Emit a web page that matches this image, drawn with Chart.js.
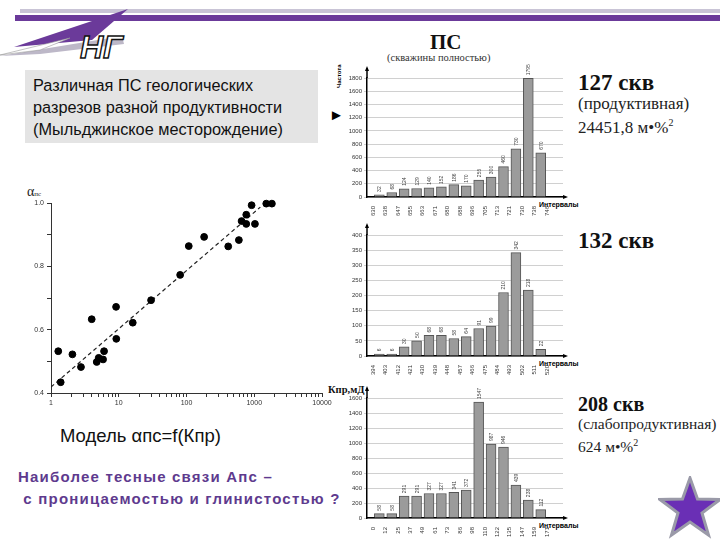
<!DOCTYPE html>
<html>
<head>
<meta charset="utf-8">
<script src="https://cdn.jsdelivr.net/npm/chart.js@4.4.1/dist/chart.umd.min.js"></script>
<style>
  body { margin:0; width:720px; height:540px; position:relative; background:#fff; overflow:hidden; font-family:"Liberation Sans", Arial, sans-serif; }
  .abs { position:absolute; }
  canvas { position:absolute; }
  .serif { font-family:"Liberation Serif", "Times New Roman", serif; }
</style>
</head>
<body>

<!-- top bands -->
<div class="abs" style="left:20px;top:9px;width:700px;height:4px;background:#c9c4d6"></div>
<div class="abs" style="left:15px;top:15px;width:705px;height:6px;background:#6b3a9a"></div>

<!-- logo -->
<svg class="abs" style="left:0;top:0" width="140" height="64">
  <polygon points="128,9 14,47 92,40" fill="#6b3a9a"/>
  <polygon points="0,56 122,36 124,44 40,54" fill="#bdb8c8"/>
  <polygon points="0,55 70,38 40,50" fill="#ffffff" stroke="#999" stroke-width="0.6"/>
  <text x="80" y="58" font-family="Liberation Sans" font-style="italic" font-weight="bold" font-size="32" fill="#fff" stroke="#111" stroke-width="1.4">НГ</text>
</svg>

<!-- description box -->
<div class="abs" style="left:25px;top:70px;width:293px;height:73px;background:#e4e4e4"></div>
<div class="abs" style="left:33px;top:74px;font-size:16.3px;line-height:22px;color:#111">
  Различная ПС геологических<br>разрезов разной продуктивности<br>(Мыльджинское месторождение)
</div>
<div class="abs" style="left:329px;top:106px;font-size:15px">&#9658;</div>

<!-- scatter labels -->
<div class="abs serif" style="left:27px;top:184px;font-size:14px;color:#222">α<span style="font-size:7px">пс</span></div>
<div class="abs serif" style="left:328px;top:384px;font-size:10.5px;font-weight:bold;color:#111">Кпр,мД</div>
<div class="abs" style="left:60px;top:425px;font-size:18.5px;color:#111">Модель αпс=f(Кпр)</div>
<div class="abs" style="left:18px;top:466px;font-size:15px;font-weight:bold;color:#5e3a8e;line-height:22px;letter-spacing:1.2px">Наиболее тесные связи Апс –<br>&nbsp;с проницаемостью и глинистостью ?</div>

<!-- histogram titles -->
<div class="abs serif" style="left:430px;top:30px;font-size:21px;font-weight:bold;color:#111">ПС</div>
<div class="abs serif" style="left:387px;top:52px;font-size:10.5px;color:#333">(скважины полностью)</div>
<div class="abs" style="left:336px;top:88px;font-size:6px;font-weight:bold;transform:rotate(-90deg);transform-origin:left top">Частота</div>

<div class="abs serif" style="left:578px;top:70px;font-size:23px;font-weight:bold;color:#111">127 скв</div>
<div class="abs serif" style="left:578px;top:94px;font-size:17px;color:#222;line-height:19px">(продуктивная)<br>24451,8 м•%<sup style="font-size:10px">2</sup></div>

<div class="abs serif" style="left:578px;top:228px;font-size:23px;font-weight:bold;color:#111">132 скв</div>

<div class="abs serif" style="left:578px;top:393px;font-size:20px;font-weight:bold;color:#111">208 скв</div>
<div class="abs serif" style="left:578px;top:414px;font-size:15.5px;color:#222;line-height:19px">(слабопродуктивная)<br>624 м•%<sup style="font-size:10px">2</sup></div>

<div class="abs" style="left:539px;top:201px;font-size:7px;font-weight:bold">Интервалы</div>
<div class="abs" style="left:539px;top:360px;font-size:7px;font-weight:bold">Интервалы</div>
<div class="abs" style="left:539px;top:522px;font-size:7px;font-weight:bold">Интервалы</div>

<canvas id="scatter" style="left:0;top:180px" width="345" height="235"></canvas>
<canvas id="hist1" style="left:340px;top:60px" width="230" height="157"></canvas>
<canvas id="hist2" style="left:340px;top:215px" width="230" height="161"></canvas>
<canvas id="hist3" style="left:340px;top:385px" width="230" height="153"></canvas>

<!-- star -->
<svg class="abs" style="left:658px;top:476px" width="64" height="64">
  <polygon points="32,2 39.5,23 62,23.5 44,37 50.5,59 32,46 13.5,59 20,37 2,23.5 24.5,23" fill="#6a2fb5" stroke="#9a9aa8" stroke-width="3"/>
</svg>

<script>
// scatter: permeability Kpr (mD) vs alpha_ps
const kprValues = [1.28, 1.39, 2.07, 2.77, 3.99, 4.73, 5.06, 5.87, 6.07, 9.13, 9.2, 16.1, 30, 80.6, 108, 182, 413, 593, 650, 762, 762, 914, 1024, 1504, 1822];
const alphaValues = [0.532, 0.434, 0.522, 0.482, 0.633, 0.498, 0.511, 0.506, 0.532, 0.672, 0.571, 0.622, 0.693, 0.773, 0.864, 0.893, 0.863, 0.883, 0.943, 0.934, 0.963, 0.993, 0.934, 0.998, 0.998];
const trendKpr = [1, 1230];
const trendAlpha = [0.419, 0.987];
const scatterXLabels = [1, 10, 100, 1000, 10000];
const scatterYLabels = [0.4, 0.6, 0.8, 1.0];

// histograms: bin edges and counts
const edges1 = ['630', '638', '647', '655', '663', '671', '680', '688', '696', '705', '713', '721', '730', '738', '746'];
const counts1 = [32, 68, 124, 129, 140, 152, 186, 170, 255, 300, 460, 730, 1795, 670];
const edges2 = ['394', '403', '412', '421', '430', '439', '448', '457', '466', '475', '484', '493', '502', '511', '520'];
const counts2 = [6, 6, 30, 50, 68, 68, 58, 64, 91, 99, 210, 342, 218, 22];
const edges3 = ['0', '12', '25', '37', '49', '61', '73', '86', '98', '110', '122', '135', '147', '159', '171'];
const counts3 = [58, 58, 291, 291, 327, 327, 341, 372, 1547, 987, 946, 439, 238, 112];

Chart.defaults.font.family = '"Liberation Sans", Arial, sans-serif';
Chart.defaults.color = '#333';

new Chart(document.getElementById('scatter'), {
  type: 'scatter',
  data: {
    datasets: [
      {
        data: kprValues.map((x, i) => ({ x, y: alphaValues[i] })),
        backgroundColor: '#000',
        borderColor: '#000',
        pointRadius: 3.4,
        clip: false
      },
      {
        data: trendKpr.map((x, i) => ({ x, y: trendAlpha[i] })),
        showLine: true,
        borderColor: '#222',
        borderWidth: 1.2,
        borderDash: [4, 3],
        pointRadius: 0
      }
    ]
  },
  options: {
    responsive: false,
    animation: false,
    layout: { padding: { top: 23, right: 23, left: 0, bottom: 0 } },
    plugins: { legend: { display: false }, tooltip: { enabled: false } },
    scales: {
      x: {
        type: 'logarithmic', min: 1, max: 10000,
        grid: { drawOnChartArea: false, color: '#333', tickLength: 4 },
        border: { color: '#333' },
        afterBuildTicks: s => { // all 1..9 per decade, for the minor marks
          const t = [];
          for (let d = 1; d <= 1000; d *= 10) for (let m = 1; m < 10; m++) t.push({ value: d * m });
          t.push({ value: 10000 });
          s.ticks = t;
        },
        ticks: {
          autoSkip: false, maxRotation: 0, font: { size: 7 }, padding: 2,
          callback: v => scatterXLabels.includes(v) ? String(v) : ''
        },
        afterFit: s => { s.height = 22; }
      },
      y: {
        min: 0.4, max: 1.0,
        grid: { drawOnChartArea: false, color: '#333', tickLength: 4 },
        border: { color: '#333' },
        ticks: {
          stepSize: 0.1, font: { size: 7 }, padding: 3,
          callback: v => scatterYLabels.some(l => Math.abs(l - v) < 1e-6) ? v.toFixed(1) : ''
        },
        afterFit: s => { s.width = 51; }
      }
    }
  }
});

// rotated numbers above each bar
const barValueLabels = {
  id: 'barValueLabels',
  afterDatasetsDraw(chart) {
    const ctx = chart.ctx;
    const meta = chart.getDatasetMeta(0);
    ctx.save();
    ctx.font = '5px "Liberation Sans"';
    ctx.fillStyle = '#444';
    meta.data.forEach((bar, i) => {
      ctx.save();
      ctx.translate(bar.x + 2, bar.y - 3);
      ctx.rotate(-Math.PI / 2);
      ctx.fillText(String(chart.data.datasets[0].data[i].y), 0, 0);
      ctx.restore();
    });
    ctx.restore();
  }
};

// little arrow heads at the ends of the axes
const axisArrows = {
  id: 'axisArrows',
  afterDraw(chart) {
    const { ctx, chartArea: a } = chart;
    ctx.save();
    ctx.fillStyle = '#000';
    ctx.strokeStyle = '#000';
    ctx.lineWidth = 1.5;
    ctx.beginPath(); ctx.moveTo(a.left, a.top); ctx.lineTo(a.left, a.top - 10); ctx.stroke();
    ctx.beginPath(); ctx.moveTo(a.left - 2, a.top - 7); ctx.lineTo(a.left, a.top - 12); ctx.lineTo(a.left + 2, a.top - 7); ctx.fill();
    ctx.beginPath(); ctx.moveTo(a.right, a.bottom - 2); ctx.lineTo(a.right + 5, a.bottom); ctx.lineTo(a.right, a.bottom + 2); ctx.fill();
    ctx.restore();
  }
};

function histogram(id, counts, edges, yMax, yStep, padTop) {
  new Chart(document.getElementById(id), {
    type: 'bar',
    data: {
      datasets: [{
        data: counts.map((y, i) => ({ x: i + 0.5, y })),
        backgroundColor: '#9b9b9b',
        borderColor: '#555',
        borderWidth: 1,
        barPercentage: 1,
        categoryPercentage: 1
      }]
    },
    options: {
      responsive: false,
      animation: false,
      layout: { padding: { top: padTop, right: 7, left: 0, bottom: 0 } },
      plugins: { legend: { display: false }, tooltip: { enabled: false } },
      scales: {
        x: {
          type: 'linear', min: 0, max: 14.8,
          grid: { display: false },
          border: { color: '#000', width: 1.5 },
          ticks: {
            stepSize: 1, autoSkip: false, maxRotation: 90, minRotation: 90,
            font: { size: 6 }, padding: 1,
            callback: v => edges[v] !== undefined ? edges[v] : ''
          },
          afterFit: s => { s.height = 20; }
        },
        y: {
          min: 0, max: yMax,
          grid: { color: '#d0d0d0', tickLength: 3 },
          border: { color: '#000', width: 1.5 },
          ticks: { stepSize: yStep, font: { size: 6 }, padding: 2, callback: v => String(v) },
          afterFit: s => { s.width = 27; }
        }
      }
    },
    plugins: [barValueLabels, axisArrows]
  });
}

histogram('hist1', counts1, edges1, 1800, 200, 18);
histogram('hist2', counts2, edges2, 400, 50, 20);
histogram('hist3', counts3, edges3, 1600, 200, 13);
</script>
</body>
</html>
